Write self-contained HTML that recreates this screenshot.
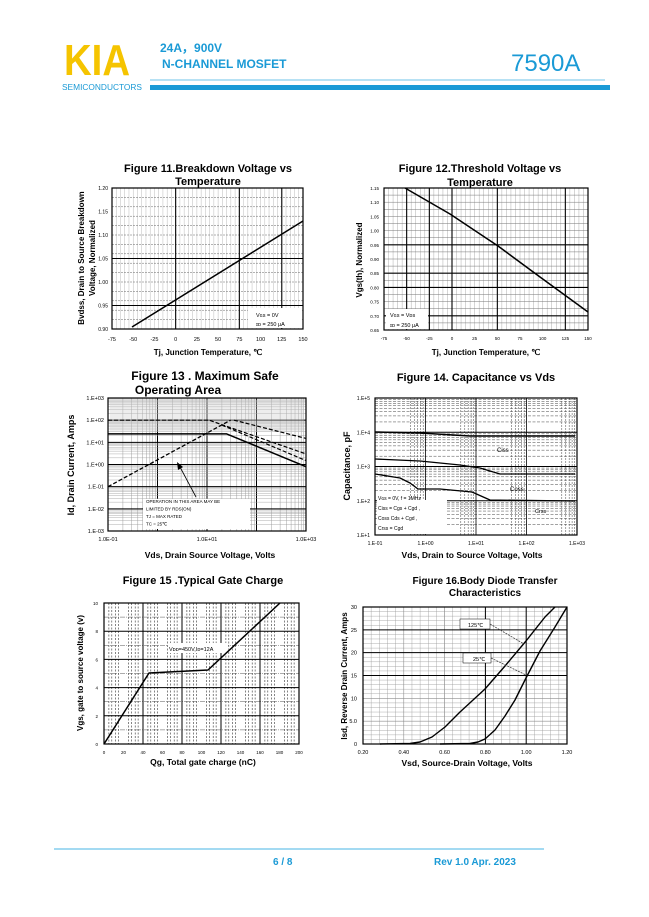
<!DOCTYPE html>
<html><head><meta charset="utf-8">
<style>
html,body{margin:0;padding:0;background:#fff;}
body{width:649px;height:917px;overflow:hidden;}
svg{display:block;font-family:"Liberation Sans",Arial,sans-serif;}
</style></head><body>
<svg id="s" width="649" height="917" viewBox="0 0 649 917" xmlns="http://www.w3.org/2000/svg">
<text x="64" y="75" font-size="44" font-weight="bold" fill="#f5c400" textLength="66" lengthAdjust="spacingAndGlyphs">KIA</text>
<text x="62" y="90" font-size="8" fill="#1a9ad6" textLength="80" lengthAdjust="spacingAndGlyphs">SEMICONDUCTORS</text>
<text x="160" y="52" font-size="12" font-weight="bold" fill="#1a9ad6">24A，900V</text>
<text x="162" y="68" font-size="12" font-weight="bold" fill="#1a9ad6">N-CHANNEL MOSFET</text>
<text x="511" y="71" font-size="24" fill="#1a9ad6">7590A</text>
<line x1="150" y1="80" x2="605" y2="80" stroke="#6cc3ea" stroke-width="1"/>
<rect x="150" y="85" width="460" height="5" fill="#1a9ad6"/>
<line x1="54" y1="849" x2="544" y2="849" stroke="#6cc3ea" stroke-width="1.2"/>
<text x="273" y="865" font-size="10" font-weight="bold" fill="#1a9ad6">6 / 8</text>
<text x="434" y="865" font-size="10" font-weight="bold" fill="#1a9ad6">Rev 1.0 Apr. 2023</text>
<g id="c"></g>
</svg>
<script>
const g=document.getElementById('c');const NS='http://www.w3.org/2000/svg';
function el(t,a,txt){const e=document.createElementNS(NS,t);for(const k in a)e.setAttribute(k,a[k]);if(txt!==undefined)e.textContent=txt;g.appendChild(e);return e;}
function L(x1,y1,x2,y2,w,c,d){const a={x1,y1,x2,y2,stroke:c||'#000','stroke-width':w||0.5};if(d)a['stroke-dasharray']=d;el('line',a);}
function T(x,y,s,sz,o){o=o||{};const a={x,y,'font-size':sz,fill:'#000'};if(o.b)a['font-weight']='bold';if(o.a)a['text-anchor']=o.a;if(o.r)a.transform=`rotate(-90 ${x} ${y})`;el('text',a,s);}
function P(pts,w,d){const a={points:pts.map(p=>p.join(',')).join(' '),fill:'none',stroke:'#000','stroke-width':w||1.5,'stroke-linejoin':'round'};if(d)a['stroke-dasharray']=d;el('polyline',a);}
function box(x0,y0,x1,y1){el('rect',{x:x0,y:y0,width:x1-x0,height:y1-y0,fill:'none',stroke:'#000','stroke-width':1.2});}
// Fig 11
(function(){const x0=112,x1=303,y0=188,y1=329;
T(208,172,'Figure 11.Breakdown Voltage vs',11,{b:1,a:'middle'});T(208,185,'Temperature',11,{b:1,a:'middle'});
for(let i=0;i<=45;i++){const x=x0+(x1-x0)*i/45;L(x,y0,x,y1,0.4,'#aaa');}
for(let i=0;i<=30;i++){const y=y0+(y1-y0)*i/30;if(i%2==0)L(x0,y,x1,y,0.5,'#666','2,1');}
[3,6,8].forEach(i=>{const x=x0+(x1-x0)*i/9;L(x,y0,x,y1,1.1);});
[3,5].forEach(i=>{const y=y0+(y1-y0)*i/6;L(x0,y,x1,y,1.1);});
box(x0,y0,x1,y1);
const yl=['1.20','1.15','1.10','1.05','1.00','0.95','0.90'];yl.forEach((s,i)=>T(x0-4,y0+(y1-y0)*i/6+2,s,5,{a:'end'}));
[-75,-50,-25,0,25,50,75,100,125,150].forEach((v,i)=>T(x0+(x1-x0)*i/9,341,v,5.5,{a:'middle'}));
el('rect',{x:248,y:308,width:54,height:20,fill:'#fff'});
T(256,317,'Vɢs = 0V',5.5);T(256,326,'ɪᴅ = 250 μA',5.5);
P([[132,327],[303,221]],1.5);
T(208,355,'Tj, Junction Temperature, ℃',8,{b:1,a:'middle'});
T(84,258,'Bvdss, Drain to Source Breakdown',8,{b:1,a:'middle',r:1});T(95,258,'Voltage, Normalized',8,{b:1,a:'middle',r:1});
})();
// Fig 12
(function(){const x0=384,x1=588,y0=188,y1=330;
T(480,172,'Figure 12.Threshold Voltage vs',11,{b:1,a:'middle'});T(480,186,'Temperature',11,{b:1,a:'middle'});
for(let i=0;i<=45;i++){const x=x0+(x1-x0)*i/45;L(x,y0,x,y1,0.4,'#999');}
for(let i=0;i<=20;i++){const y=y0+(y1-y0)*i/20;L(x0,y,x1,y,0.5,'#777');}
[1,2,3,5,8].forEach(i=>{const x=x0+(x1-x0)*i/9;L(x,y0,x,y1,1.1);});
[8,12,14,18].forEach(i=>{const y=y0+(y1-y0)*i/20;L(x0,y,x1,y,1.1);});
box(x0,y0,x1,y1);
['1.15','1.10','1.05','1.00','0.95','0.90','0.85','0.80','0.75','0.70','0.65'].forEach((s,i)=>T(x0-5,y0+(y1-y0)*i/10+2,s,4.5,{a:'end'}));
[-75,-50,-25,0,25,50,75,100,125,150].forEach((v,i)=>T(x0+(x1-x0)*i/9,340,v,4.5,{a:'middle'}));
el('rect',{x:386,y:309,width:42,height:20,fill:'#fff'});
T(390,317,'Vɢs = Vᴅs',5.5);T(390,327,'ɪᴅ = 250 μA',5.5);
P([[405,188],[450,214],[498,246],[540,277],[588,312]],1.5);
T(486,355,'Tj, Junction Temperature, ℃',8,{b:1,a:'middle'});
T(362,260,'Vgs(th), Normalized',8,{b:1,a:'middle',r:1});
})();
// Fig 13
(function(){const x0=108,x1=306,y0=398,y1=531;
T(205,380,'Figure 13 . Maximum Safe',12,{b:1,a:'middle'});T(178,394,'Operating Area',12,{b:1,a:'middle'});
const dx=(x1-x0)/4,dy=(y1-y0)/6;
for(let d=0;d<4;d++)for(let k=1;k<10;k++){const x=x0+dx*(d+Math.log10(k));L(x,y0,x,y1,k==1?1:0.4,k==1?'#000':'#888');}
for(let d=0;d<6;d++)for(let k=1;k<10;k++){const y=y1-dy*(d+Math.log10(k));L(x0,y,x1,y,k==1?1:0.4,k==1?'#000':'#999');}
el('rect',{x:110,y:400,width:194,height:32,fill:'#ccc',opacity:0.35});
box(x0,y0,x1,y1);
['1.E+03','1.E+02','1.E+01','1.E+00','1.E-01','1.E-02','1.E-03'].forEach((s,i)=>T(x0-4,y0+dy*i+2,s,5.5,{a:'end'}));
T(x0,541,'1.0E-01',5.5,{a:'middle'});T(x0+2*dx,541,'1.0E+01',5.5,{a:'middle'});T(x1,541,'1.0E+03',5.5,{a:'middle'});
const Y=v=>y1-dy*(Math.log10(v)+3),X=v=>x0+dx*(Math.log10(v)+1);
P([[x0,Y(0.1)],[X(30),Y(100)]],1.3,'4,2');
P([[x0,Y(100)],[X(11),Y(100)],[x1,Y(3)]],1.2,'4,2');
P([[X(35),Y(100)],[x1,Y(15)]],1.2,'4,2');
P([[X(20),Y(60)],[x1,Y(1.5)]],1.2,'4,2');
P([[x0,Y(24)],[X(25),Y(24)],[x1,Y(0.8)]],1.5);
el('rect',{x:143,y:499,width:107,height:30,fill:'#fff'});
['OPERATION IN THIS AREA MAY BE','LIMITED BY RDS(ON)','TJ = MAX RATED','TC = 25℃'].forEach((s,i)=>T(146,503+i*7.5,s,4.5));
L(196,497,180,467,0.8);el('polygon',{points:'177,462 178,470 183,467',fill:'#000'});
T(210,558,'Vds, Drain Source Voltage, Volts',8.5,{b:1,a:'middle'});
T(74,465,'Id, Drain Current, Amps',9,{b:1,a:'middle',r:1});
})();
// Fig 14
(function(){const x0=375,x1=577,y0=398,y1=535;
T(476,381,'Figure 14. Capacitance vs Vds',11,{b:1,a:'middle'});
const dx=(x1-x0)/4,dy=(y1-y0)/4;
for(let d=0;d<4;d++)for(let k=2;k<10;k++){const x=x0+dx*(d+Math.log10(k));if(k>=5)L(x,y0,x,y1,0.5,'#444','2,1');}
for(let d=0;d<4;d++)for(let k=2;k<10;k++){const y=y1-dy*(d+Math.log10(k));L(x0,y,x1,y,0.5,'#444','3,1.5');}
for(let d=0;d<=4;d++){L(x0+dx*d,y0,x0+dx*d,y1,0.8);L(x0,y0+dy*d,x1,y0+dy*d,1);}
el('rect',{x:377,y:500,width:70,height:34,fill:'#fff'});
box(x0,y0,x1,y1);
['1.E+5','1.E+4','1.E+3','1.E+2','1.E+1'].forEach((s,i)=>T(x0-5,y0+dy*i+2,s,5,{a:'end'}));
['1.E-01','1.E+00','1.E+01','1.E+02','1.E+03'].forEach((s,i)=>T(x0+dx*i,545,s,5,{a:'middle'}));
P([[375,432],[420,433],[470,436],[575,436]],1.5);
P([[375,459],[420,461],[460,465],[480,468],[500,474],[575,474]],1.3);
P([[375,474],[400,478],[410,483],[418,489],[440,489],[472,492],[490,500],[575,501]],1.3);
T(497,452,'Ciss',6);T(510,491,'Coss',6);T(535,513,'Crss',5.5);
['Vɢs = 0V,   f = 1MHz','Ciss = Cgs + Cgd ,','Coss Cds + Cgd ,','Crss = Cgd'].forEach((s,i)=>T(378,500+i*10,s,5));
T(472,558,'Vds, Drain to Source Voltage, Volts',8.5,{b:1,a:'middle'});
T(350,466,'Capacitance, pF',9,{b:1,a:'middle',r:1});
})();
// Fig 15
(function(){const x0=104,x1=299,y0=603,y1=744;
T(203,584,'Figure 15 .Typical Gate Charge',11,{b:1,a:'middle'});
const dx=(x1-x0)/10,dy=(y1-y0)/10;
for(let i=0;i<10;i++)[0.25,0.4,0.6,0.75].forEach(f=>{const x=x0+dx*(i+f);L(x,y0,x,y1,0.6,'#333','2,1.5');});
for(let i=1;i<10;i++){const y=y0+dy*i;L(x0,y,x1,y,i%2?0.5:1,i%2?'#555':'#000',i%2?'5,1,1,1':null);}
[2,4,6,8].forEach(i=>{const x=x0+dx*i;L(x,y0,x,y1,1);});
box(x0,y0,x1,y1);
[10,8,6,4,2,0].forEach((v,i)=>T(x0-6,y0+dy*2*i+2,v,4.5,{a:'end'}));
[0,20,40,60,80,100,120,140,160,180,200].forEach((v,i)=>T(x0+dx*i,754,v,4.5,{a:'middle'}));
el('rect',{x:168,y:643,width:60,height:10,fill:'#fff'});
T(169,651,'Vᴅᴅ=450V,Iᴅ=12A',5.5);
P([[104,744],[149,673],[208,670],[280,603]],1.5);
T(203,765,'Qg, Total gate charge (nC)',8.5,{b:1,a:'middle'});
T(83,673,'Vgs, gate to source voltage (v)',8,{b:1,a:'middle',r:1});
})();
// Fig 16
(function(){const x0=363,x1=567,y0=607,y1=744;
T(485,584,'Figure 16.Body Diode Transfer',10,{b:1,a:'middle'});T(485,596,'Characteristics',10,{b:1,a:'middle'});
const dx=(x1-x0)/5,dy=(y1-y0)/6;
for(let i=0;i<25;i++){const x=x0+dx*i/5;L(x,y0,x,y1,0.4,'#999');}
for(let i=0;i<30;i++){const y=y0+dy*i/5;L(x0,y,x1,y,0.4,'#999');}
for(let i=1;i<5;i++)L(x0+dx*i,y0,x0+dx*i,y1,i>=3?1:0.5,i>=3?'#000':'#888');
for(let i=1;i<6;i++)L(x0,y0+dy*i,x1,y0+dy*i,i<=3?1:0.5,i<=3?'#000':'#888');
box(x0,y0,x1,y1);
['30','25','20','15','10','5.0','0'].forEach((s,i)=>T(x0-6,y0+dy*i+2,s,5.5,{a:'end'}));
['0.20','0.40','0.60','0.80','1.00','1.20'].forEach((s,i)=>T(x0+dx*i,754,s,5.5,{a:'middle'}));
P([[380,744],[410,743.5],[420,742],[432,737],[445,727],[460,712],[485,689],[505,666],[526,641],[545,617],[555,607]],1.4);
P([[440,744],[470,743.5],[478,742],[485,739],[495,730],[505,716],[515,700],[526,678],[540,651],[555,627],[567,607]],1.4);
el('rect',{x:460,y:619,width:30,height:10,fill:'#fff',stroke:'#000','stroke-width':0.5});T(468,627,'125℃',5.5);
el('rect',{x:463,y:653,width:28,height:10,fill:'#fff',stroke:'#000','stroke-width':0.5});T(473,661,'25℃',5.5);
L(490,624,524,644,0.8,'#444','2,1');L(491,658,526,675,0.8,'#444','2,1');
T(467,766,'Vsd, Source-Drain Voltage, Volts',8.5,{b:1,a:'middle'});
T(347,676,'Isd, Reverse Drain Current, Amps',8,{b:1,a:'middle',r:1});
})();
</script>
</body></html>
